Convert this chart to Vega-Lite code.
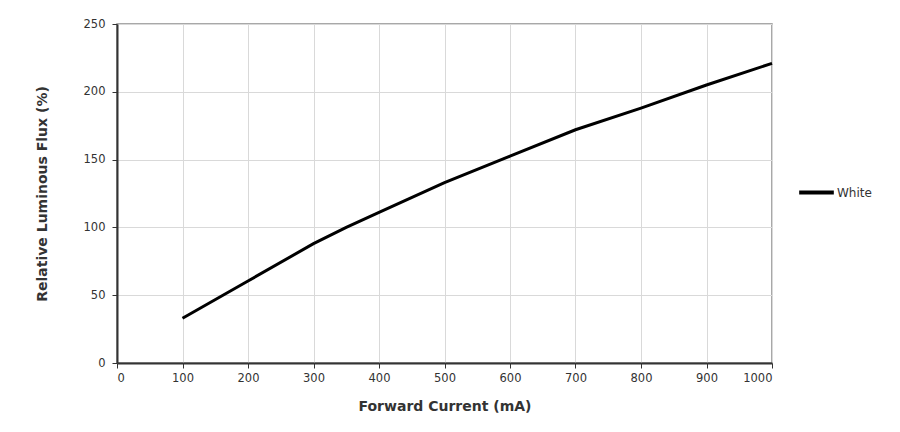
{
  "$schema": "https://vega.github.io/schema/vega-lite/v6.json",
  "width": 655,
  "height": 339,
  "autosize": {"type": "none"},
  "padding": {"left": 117, "top": 24, "right": 128, "bottom": 69},
  "background": "white",
  "config": {
    "font": "DejaVu Sans",
    "view": {"stroke": "#8c8c8c", "strokeWidth": 1.5},
    "axis": {
      "labelFont": "DejaVu Sans",
      "labelFontSize": 11.5,
      "labelColor": "#333333",
      "titleFont": "DejaVu Sans",
      "titleFontSize": 14,
      "titleFontWeight": "bold",
      "titleColor": "#333333",
      "gridColor": "#d9d9d9",
      "gridWidth": 1,
      "domainColor": "#333333",
      "domainWidth": 2,
      "tickColor": "#333333",
      "tickSize": 5
    }
  },
  "data": {
    "values": [
      {"current": 100, "flux": 33, "series": "White"},
      {"current": 200, "flux": 60.5, "series": "White"},
      {"current": 300, "flux": 88, "series": "White"},
      {"current": 350, "flux": 100, "series": "White"},
      {"current": 400, "flux": 111, "series": "White"},
      {"current": 500, "flux": 133, "series": "White"},
      {"current": 600, "flux": 152.5, "series": "White"},
      {"current": 700, "flux": 172, "series": "White"},
      {"current": 800, "flux": 188, "series": "White"},
      {"current": 900, "flux": 205, "series": "White"},
      {"current": 1000, "flux": 221, "series": "White"}
    ]
  },
  "mark": {"type": "line", "strokeWidth": 3},
  "encoding": {
    "x": {
      "field": "current",
      "type": "quantitative",
      "scale": {"domain": [0, 1000], "nice": false},
      "axis": {"values": [0,100,200,300,400,500,600,700,800,900,1000], "format": "d", "title": "Forward Current (mA)", "titlePadding": 16, "labelPadding": 4}
    },
    "y": {
      "field": "flux",
      "type": "quantitative",
      "scale": {"domain": [0, 250], "nice": false},
      "axis": {"values": [0,50,100,150,200,250], "format": "d", "title": "Relative Luminous Flux (%)", "titlePadding": 34, "labelPadding": 7}
    },
    "color": {
      "field": "series",
      "type": "nominal",
      "scale": {"range": ["#000000"]},
      "legend": {
        "title": null,
        "orient": "none",
        "legendX": 680,
        "legendY": 149,
        "symbolType": "stroke",
        "symbolStrokeWidth": 4,
        "symbolSize": 1200,
        "labelFontSize": 12,
        "labelColor": "#333333",
        "labelFont": "DejaVu Sans",
        "labelOffset": 1
      }
    }
  }
}
